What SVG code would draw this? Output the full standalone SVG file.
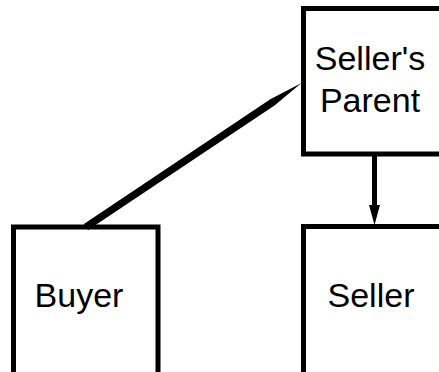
<svg xmlns="http://www.w3.org/2000/svg" width="439" height="372" viewBox="0 0 439 372">
  <style>
    .box { fill: #ffffff; stroke: #000000; stroke-width: 5; }
    .label { font-family: "Liberation Sans", Arial, sans-serif; font-size: 34px; fill: #000000; text-anchor: middle; }
    .edge { stroke: #000000; stroke-width: 5; fill: none; }
    .solid { fill: #000000; stroke: none; }
  </style>

  <g id="sellers-parent">
    <rect class="box" x="303.5" y="8.5" width="160" height="145.5"/>
    <text class="label" x="370" y="70">Seller's</text>
    <text class="label" x="370" y="112">Parent</text>
  </g>

  <g id="buyer">
    <rect class="box" x="13.5" y="227" width="144.5" height="160"/>
    <text class="label" x="79" y="307">Buyer</text>
  </g>

  <g id="seller">
    <rect class="box" x="303.5" y="226.5" width="160" height="160"/>
    <text class="label" x="371" y="307">Seller</text>
  </g>

  <g id="connectors">
    <!-- parent to buyer: heavy stroke that tapers to a point at the parent's left side -->
    <path class="solid" d="M83.9,223.9 L270.3,99.3 L301.5,83 L274.5,105.5 L88.1,230.1 Z"/>
    <!-- parent to seller -->
    <line class="edge" x1="374.5" y1="156" x2="374.5" y2="207"/>
    <path class="solid" d="M369,205 L380,205 L374.5,225 Z"/>
  </g>
</svg>
